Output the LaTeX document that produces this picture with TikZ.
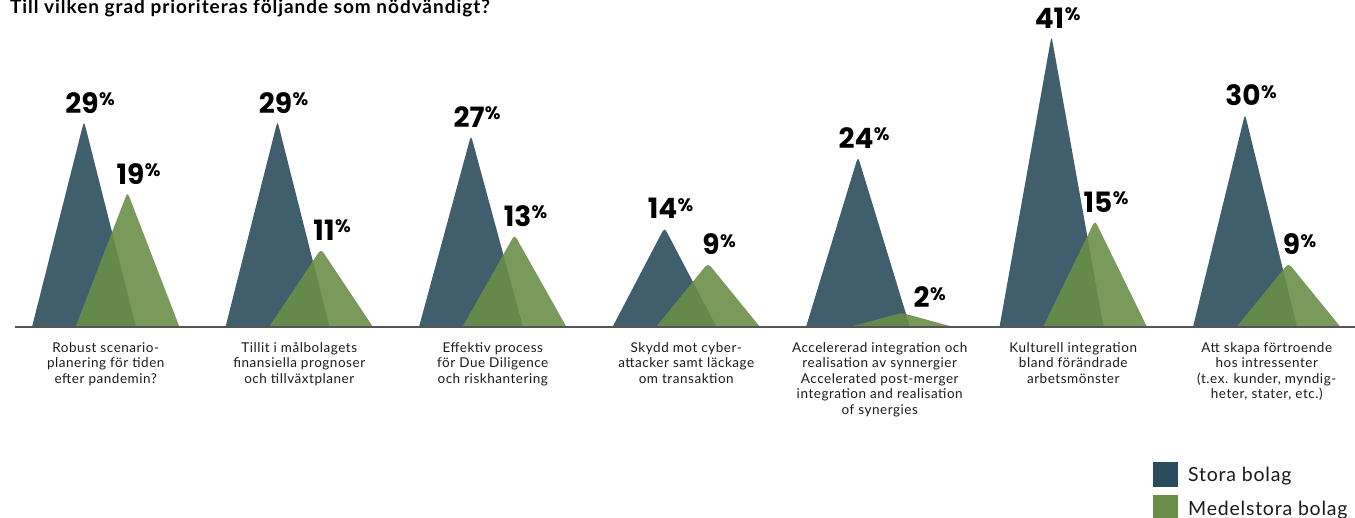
\documentclass[tikz,border=0pt]{standalone}
\usepackage{fontspec}
\setmainfont{Lato}
\newfontfamily\numfont{Poppins}
\newfontfamily\spacedfont[LetterSpace=4]{Lato}
\newfontfamily\titlefont[LetterSpace=5]{Lato}
\usetikzlibrary{calc}
\definecolor{stora}{HTML}{2B4C5C}
\definecolor{medel}{HTML}{6A8E48}
\definecolor{axisgray}{HTML}{555555}
\definecolor{inktext}{HTML}{1A1A1A}
\tikzset{
  pics/peak/.style={code={
    \fill (-52,0) -- ($(0,7.1*#1)!9pt!(-52,0)$) .. controls (0,7.1*#1) .. ($(0,7.1*#1)!9pt!(52,0)$) -- (52,0) -- cycle;
  }},
  darkpeak/.style={fill=stora,fill opacity=0.9},
  greenpeak/.style={fill=medel,fill opacity=0.89},
  pct/.style={anchor=base,inner sep=0pt,text=black,font=\numfont\bfseries\fontsize{28}{28}\selectfont},
  catlabel/.style={anchor=north,align=center,inner sep=0pt,text=inktext,font=\spacedfont\fontsize{13.5}{15.5}\selectfont},
  keybox/.style={anchor=south west,inner sep=0pt,minimum size=25pt},
  keytext/.style={anchor=base west,inner sep=0pt,text=inktext,font=\spacedfont\fontsize{19.5}{20}\selectfont}
}
\newcommand{\pcttext}[1]{#1\rlap{\hspace{0.5pt}\raisebox{7.5pt}{\fontsize{18}{18}\selectfont\%}}}

\begin{document}
\begin{tikzpicture}[x=1pt,y=1pt]
\useasboundingbox (0,0) rectangle (1355,517);
\node[anchor=base west,inner sep=0pt,font=\titlefont\bfseries\fontsize{19}{19}\selectfont] (titel) at (10,503.5) {Till vilken grad prioriteras följande som nödvändigt?};
\foreach \i/\dv/\gv/\gx/\gy/\txt in {
  0/29/19/3/9/{Robust scenario-\\planering för tiden\\efter pandemin?},
  1/29/11/3/9/{Tillit i målbolagets\\finansiella prognoser\\och tillväxtplaner},
  2/27/13/3/9/{Effektiv process\\för Due Diligence\\och riskhantering},
  3/14/9/3/9/{Skydd mot cyber-\\attacker samt läckage\\om transaktion},
  4/24/2/20/5/{Accelererad integration och\\realisation av synnergier\\Accelerated post-merger\\integration and realisation\\of synergies},
  5/41/15/3/9/{Kulturell integration\\bland förändrade\\arbetsmönster},
  6/30/9/3/9/{Att skapa förtroende\\hos intressenter\\(t.ex. kunder, myndig-\\heter, stater, etc.)}}{
  \pgfmathsetmacro\cx{105.75+193.5*\i}
  \pic[darkpeak] at (\cx-21.75,190) {peak=\dv};
  \pic[greenpeak] at (\cx+21.75,190) {peak=\gv};
  \node[pct] (stora\i) at (\cx-23.75,190+7.05*\dv+9.5) {\pcttext{\dv}};
  \node[pct] (medel\i) at (\cx+21.75+\gx,190+7.05*\gv+\gy) {\pcttext{\gv}};
  \node[catlabel] (kat\i) at (\cx,175) {\txt};
}
\coordinate (axisL) at (15,190);
\coordinate (axisR) at (1355,190);
\draw[axisgray,line width=1.5pt] (axisL) -- (axisR);
\node[keybox,fill=stora] (keystora) at (1153,30) {};
\node[keybox,fill=medel] (keymedel) at (1153,-3) {};
\node[keytext] (txtstora) at (1188,35) {Stora bolag};
\node[keytext] (txtmedel) at (1188,2) {Medelstora bolag};
\end{tikzpicture}
\end{document}
